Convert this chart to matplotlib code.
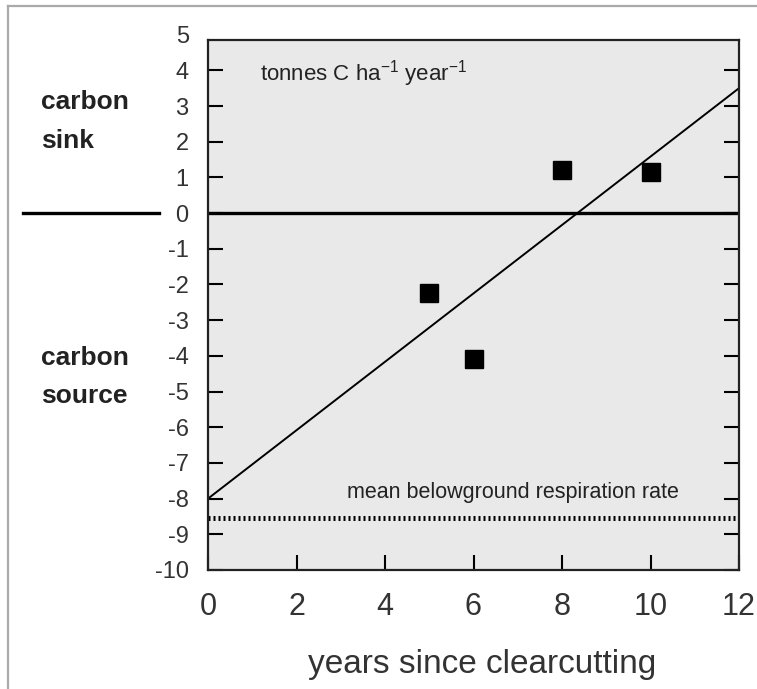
"""Net carbon flux after clearcutting (recreated figure)."""

import matplotlib
matplotlib.use("Agg")
import matplotlib.pyplot as plt
from matplotlib.transforms import blended_transform_factory

plt.rcParams["font.family"] = ["Liberation Sans", "DejaVu Sans"]
plt.rcParams["axes.unicode_minus"] = False
plt.rcParams["mathtext.fontset"] = "custom"
plt.rcParams["mathtext.rm"] = "Liberation Sans"
plt.rcParams["mathtext.it"] = "Liberation Sans"

# data
years = [5, 6, 8, 10]
flux = [-2.25, -4.1, 1.2, 1.15]          # tonnes C / ha / year
fit_x = [0, 12]
fit_y = [-8.0, 3.5]                      # regression line end points
resp_rate = -8.55                        # mean belowground respiration
x_ticks = [0, 2, 4, 6, 8, 10, 12]
y_ticks = list(range(-10, 5))

W, H = 757, 689
fig = plt.figure(figsize=(W / 100, H / 100), dpi=100)
ax = fig.add_axes([208 / W, 1 - 570 / H, 531 / W, 530 / H])
ax.set_facecolor("#e9e9e9")

ax.plot(fit_x, fit_y, color="black", lw=1.4)
ax.axhline(0, color="black", lw=2.4)
ax.plot(fit_x, [resp_rate, resp_rate], color="black", lw=3.6,
        dashes=(0.4, 0.6))
ax.plot(years, flux, "s", color="black", ms=13)

ax.set_xlim(0, 12)
ax.set_ylim(-10, 4.85)
ax.set_xticks(x_ticks)
ax.set_yticks(y_ticks)
ax.tick_params(axis="x", direction="in", length=11, width=1.5,
               labelsize=22, pad=16, labelcolor="#333333")
ax.tick_params(axis="y", direction="in", length=11, width=1.5, right=True,
               labelsize=17, pad=14, labelcolor="#333333")
for s in ax.spines.values():
    s.set_linewidth(1.6)
    s.set_color("#222222")

# "5" sits just above the frame in the original
fig.text(189 / W, 1 - 37 / H, "5", ha="right", va="center",
         fontsize=17, color="#333333")

# zero line carried out into the margin
bt = blended_transform_factory(fig.transFigure, ax.transData)
ax.plot([23 / W, 159 / W], [0, 0], color="black", lw=2.4,
        transform=bt, clip_on=False)

ax.text(1.18, 3.9, r"tonnes C ha$^{-1}$ year$^{-1}$", fontsize=16,
        color="#222222", va="center")
ax.text(3.15, -7.82, "mean belowground respiration rate", fontsize=15.5,
        color="#222222", va="center")

for word, yb in [("carbon", 109), ("sink", 148),
                 ("carbon", 365), ("source", 403)]:
    fig.text(41 / W, 1 - yb / H, word, fontsize=19, fontweight="bold",
             color="#222222", va="baseline")

fig.text(482 / W, 1 - 665 / H, "years since clearcutting", fontsize=24,
         color="#333333", ha="center", va="center")

# grey frame on the top and left edges
fig.add_artist(plt.Line2D([7.5 / W, 7.5 / W], [0, 1 - 6 / H],
                          color="#aaaaaa", lw=1.6))
fig.add_artist(plt.Line2D([7.5 / W, 1], [1 - 6 / H, 1 - 6 / H],
                          color="#aaaaaa", lw=1.6))

fig.savefig("out.png", dpi=100)
